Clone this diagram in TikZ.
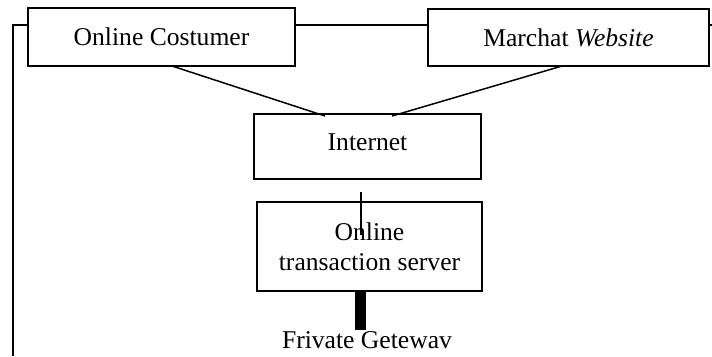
\documentclass[tikz,border=0pt]{standalone}
\usepackage{fontspec}
\setmainfont{Liberation Serif}
\usetikzlibrary{calc}
\begin{document}
\begin{tikzpicture}[x=1pt,y=-1pt,
  frame/.style={draw,line width=1.8pt,inner sep=0pt,outer sep=0pt,
    font=\fontsize{25.6}{30}\selectfont},
  box/.style={frame,text height=17pt,text depth=0pt},
  link/.style={line width=1.5pt},
  plain/.style={inner sep=0pt,outer sep=0pt,font=\fontsize{25.6}{30}\selectfont}]
\useasboundingbox (0,0) rectangle (712,356);

% boxes
\node[box,minimum width=267pt,minimum height=58pt] (cust) at (161.5,37) {Online Costumer};
\node[box,minimum width=281pt,minimum height=57pt] (merch) at (568.5,37.5) {Marchat \textit{Website}};
\node[box,minimum width=227pt,minimum height=65pt,text depth=10pt] (inet) at (367.5,146.5) {Internet};
\node[frame,minimum width=225pt,minimum height=89pt,align=center] (srv) at (369.5,246.5) {Online\\transaction server};
\node[plain,anchor=base] (gw) at (367,348) {Frivate Getewav};

\coordinate (edge) at (712,25);
\coordinate (corner) at (13,25);
\coordinate (floor) at (13,356);

% top bus and left return line
\draw[link] ($(cust.east)+(0,-12)$) -- ($(merch.west)+(0,-12.5)$);
\draw[link] ($(merch.east)+(0,-12.5)$) -- (edge);
\draw[line width=1.8pt] ($(cust.west)+(0,-12)$) -- (corner) -- (floor);

% links into the internet box
\draw[link] ($(cust.south)+(10.5,0)$) -- ($(inet.north)+(-42.5,2)$);
\draw[link] ($(merch.south)+(-6.5,0)$) -- ($(inet.north)+(24.5,2)$);

% internet to server
\draw[line width=1.2pt] ($(inet.south)+(-6.5,13)$) -- ($(srv.north)+(-8.5,33)$);

% server to gateway (thick bar)
\draw[line width=11pt] ($(srv.south)+(-9,0)$) -- ($(gw.north)+(-6.5,-1)$);
\end{tikzpicture}
\end{document}
